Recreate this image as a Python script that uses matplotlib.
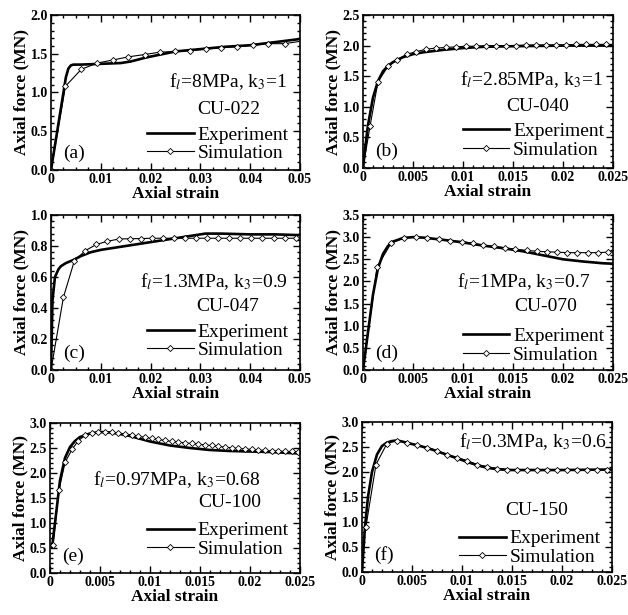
import matplotlib
matplotlib.use("Agg")
import matplotlib.pyplot as plt
from matplotlib.ticker import AutoMinorLocator, FuncFormatter, MultipleLocator
from matplotlib.lines import Line2D

plt.rcParams.update({"font.family": "Liberation Serif", "mathtext.fontset": "stix",
                     "axes.linewidth": 1.2})

# ---- (a) CU-022 ----
a_exp_x = [0, 0.001, 0.002, 0.003, 0.0035, 0.004, 0.0045, 0.006, 0.01, 0.014, 0.016, 0.019,
           0.022, 0.025, 0.03, 0.035, 0.04, 0.045, 0.05]
a_exp_y = [0, 0.40, 0.80, 1.20, 1.31, 1.35, 1.36, 1.36, 1.37, 1.38, 1.40, 1.45,
           1.49, 1.53, 1.56, 1.59, 1.61, 1.65, 1.69]
a_sim_x = [0, 0.0029, 0.0061, 0.0093, 0.0125, 0.0155, 0.0188, 0.0218, 0.025, 0.028, 0.0312,
           0.0342, 0.0373, 0.0406, 0.0436, 0.0469, 0.05]
a_sim_y = [0, 1.08, 1.30, 1.38, 1.42, 1.46, 1.49, 1.52, 1.53, 1.54, 1.56,
           1.58, 1.59, 1.61, 1.63, 1.63, 1.66]

# ---- (b) CU-040 ----
b_exp_x = [0, 0.0002, 0.0005, 0.001, 0.0015, 0.002, 0.0025, 0.003, 0.004, 0.005, 0.006,
           0.008, 0.01, 0.012, 0.015, 0.02, 0.025]
b_exp_y = [0, 0.30, 0.70, 1.15, 1.42, 1.58, 1.67, 1.73, 1.81, 1.86, 1.89,
           1.93, 1.96, 1.98, 1.99, 2.00, 2.00]
b_sim_x = [0, 0.0007, 0.0015, 0.0025, 0.0034, 0.0044, 0.0053, 0.0063, 0.0073, 0.0083, 0.0093,
           0.0103, 0.0113, 0.0123, 0.0133, 0.0143, 0.0153, 0.0163, 0.0173, 0.0183, 0.0193,
           0.0203, 0.0213, 0.0223, 0.0233, 0.0243, 0.025]
b_sim_y = [0, 0.68, 1.41, 1.66, 1.77, 1.86, 1.90, 1.94, 1.96, 1.97, 1.98,
           1.99, 1.99, 2.00, 2.00, 2.00, 2.00, 2.01, 2.01, 2.01, 2.01,
           2.01, 2.02, 2.02, 2.02, 2.02, 2.02]

# ---- (c) CU-047 ----
c_exp_x = [0, 0.0003, 0.0008, 0.0015, 0.002, 0.003, 0.0045, 0.006, 0.008, 0.01, 0.013, 0.016,
           0.02, 0.024, 0.028, 0.031, 0.034, 0.04, 0.045, 0.05]
c_exp_y = [0, 0.45, 0.60, 0.65, 0.67, 0.69, 0.71, 0.735, 0.76, 0.775, 0.79, 0.805,
           0.825, 0.845, 0.865, 0.88, 0.88, 0.875, 0.875, 0.87]
c_sim_x = [0, 0.0025, 0.0047, 0.0069, 0.0091, 0.0113, 0.0136, 0.0158, 0.018, 0.0202, 0.0225,
           0.0247, 0.0269, 0.0291, 0.0313, 0.0336, 0.0358, 0.038, 0.0402, 0.0424, 0.0447,
           0.0469, 0.0491]
c_sim_y = [0, 0.47, 0.705, 0.77, 0.81, 0.83, 0.845, 0.847, 0.848, 0.85, 0.85,
           0.85, 0.85, 0.85, 0.85, 0.85, 0.85, 0.85, 0.85, 0.85, 0.85,
           0.85, 0.85]

# ---- (d) CU-070 ----
d_exp_x = [0, 0.0005, 0.001, 0.0015, 0.002, 0.0025, 0.003, 0.004, 0.005, 0.006, 0.008, 0.01,
           0.012, 0.014, 0.016, 0.018, 0.02, 0.022, 0.024, 0.025]
d_exp_y = [0, 0.85, 1.70, 2.30, 2.62, 2.80, 2.90, 2.98, 3.00, 2.99, 2.94, 2.88,
           2.81, 2.75, 2.68, 2.59, 2.50, 2.45, 2.41, 2.40]
d_sim_x = [0, 0.0014, 0.0028, 0.0041, 0.0053, 0.0064, 0.0076, 0.0087, 0.0099, 0.011, 0.012,
           0.0131, 0.0142, 0.0152, 0.0164, 0.0174, 0.0184, 0.0194, 0.0204, 0.0214, 0.0225,
           0.0235, 0.0245, 0.025]
d_sim_y = [0, 2.32, 2.86, 2.99, 3.00, 2.98, 2.96, 2.92, 2.90, 2.86, 2.82,
           2.79, 2.76, 2.73, 2.70, 2.68, 2.67, 2.66, 2.65, 2.65, 2.65,
           2.65, 2.66, 2.67]

# ---- (e) CU-100 ----
e_exp_x = [0.0002, 0.0005, 0.001, 0.0015, 0.002, 0.0025, 0.003, 0.004, 0.005, 0.006, 0.007,
           0.008, 0.01, 0.012, 0.014, 0.016, 0.018, 0.02, 0.022, 0.025]
e_exp_y = [0.50, 1.00, 1.85, 2.30, 2.52, 2.64, 2.72, 2.79, 2.82, 2.81, 2.78,
           2.74, 2.63, 2.55, 2.50, 2.46, 2.44, 2.43, 2.42, 2.39]
e_sim_x = [0.0003, 0.0009, 0.0015, 0.0022, 0.0028, 0.0035, 0.0042, 0.0048, 0.0055, 0.0062,
           0.0068, 0.0075, 0.0082, 0.0088, 0.0095, 0.0102, 0.0108, 0.0115, 0.0122, 0.0128,
           0.0135, 0.0142, 0.0148, 0.0155, 0.0162, 0.0168, 0.0175, 0.0182, 0.0188, 0.0195,
           0.0202, 0.0208, 0.0215, 0.0222, 0.0228, 0.0235, 0.0242, 0.0248]
e_sim_y = [0.56, 1.66, 2.21, 2.47, 2.64, 2.75, 2.80, 2.82, 2.82, 2.81,
           2.80, 2.78, 2.76, 2.74, 2.71, 2.69, 2.67, 2.65, 2.63, 2.62,
           2.60, 2.59, 2.58, 2.56, 2.55, 2.53, 2.52, 2.50, 2.49, 2.48,
           2.47, 2.46, 2.45, 2.44, 2.44, 2.43, 2.43, 2.42]

# ---- (f) CU-150 ----
f_exp_x = [0, 0.0003, 0.0006, 0.001, 0.0015, 0.002, 0.0025, 0.003, 0.0035, 0.004, 0.005,
           0.006, 0.007, 0.008, 0.009, 0.01, 0.011, 0.012, 0.013, 0.014, 0.015, 0.017, 0.02, 0.025]
f_exp_y = [0, 0.90, 1.50, 2.00, 2.35, 2.52, 2.59, 2.62, 2.63, 2.61, 2.56,
           2.51, 2.45, 2.38, 2.31, 2.24, 2.17, 2.11, 2.07, 2.05, 2.04, 2.04, 2.04, 2.05]
f_sim_x = [0.0004, 0.0014, 0.0025, 0.0035, 0.0045, 0.0055, 0.0065, 0.0075, 0.0085, 0.0095,
           0.0105, 0.0115, 0.0125, 0.0135, 0.0145, 0.0155, 0.0165, 0.0175, 0.0185, 0.0195,
           0.0205, 0.0215, 0.0225, 0.0235, 0.0245]
f_sim_y = [0.91, 2.15, 2.57, 2.63, 2.59, 2.54, 2.49, 2.43, 2.35, 2.29,
           2.23, 2.15, 2.11, 2.07, 2.05, 2.04, 2.04, 2.04, 2.04, 2.04,
           2.04, 2.04, 2.04, 2.04, 2.04]

panels = [
    # letter, rect, exp, sim, xmax, ymax, ystep, condition, specimen, cond_xy, spec_xy, leg_xy, last point marked
    ("a", [0.0812, 0.7236, 0.3965, 0.2520], (a_exp_x, a_exp_y), (a_sim_x, a_sim_y), 0.05, 2.0, 0.5,
     r"f$_{\mathit{l}}$=8MPa, k$_3$=1", "CU-022", (0.95, 0.57), (0.715, 0.39), (0.955, 0.05), False),
    ("b", [0.5780, 0.7268, 0.3981, 0.2488], (b_exp_x, b_exp_y), (b_sim_x, b_sim_y), 0.025, 2.5, 0.5,
     r"f$_{\mathit{l}}$=2.85MPa, k$_3$=1", "CU-040", (0.96, 0.575), (0.70, 0.40), (0.965, 0.06), False),
    ("c", [0.0812, 0.3984, 0.3965, 0.2520], (c_exp_x, c_exp_y), (c_sim_x, c_sim_y), 0.05, 1.0, 0.2,
     r"f$_{\mathit{l}}$=1.3MPa, k$_3$=0.9", "CU-047", (0.95, 0.57), (0.71, 0.41), (0.955, 0.07), True),
    ("d", [0.5780, 0.3984, 0.3981, 0.2520], (d_exp_x, d_exp_y), (d_sim_x, d_sim_y), 0.025, 3.5, 0.5,
     r"f$_{\mathit{l}}$=1MPa, k$_3$=0.7", "CU-070", (0.91, 0.57), (0.73, 0.41), (0.965, 0.04), False),
    ("e", [0.0796, 0.0683, 0.3981, 0.2439], (e_exp_x, e_exp_y), (e_sim_x, e_sim_y), 0.025, 3.0, 0.5,
     r"f$_{\mathit{l}}$=0.97MPa, k$_3$=0.68", "CU-100", (0.84, 0.62), (0.72, 0.47), (0.955, 0.10), True),
    ("f", [0.5764, 0.0699, 0.3981, 0.2439], (f_exp_x, f_exp_y), (f_sim_x, f_sim_y), 0.025, 3.0, 0.5,
     r"f$_{\mathit{l}}$=0.3MPa, k$_3$=0.6", "CU-150", (0.98, 0.87), (0.70, 0.41), (0.955, 0.04), True),
]

EXP_LW, SIM_LW, MS = 1.9, 0.8, 3.1


def xfmt(v, _):
    return "0" if abs(v) < 1e-12 else f"{v:g}"


fig = plt.figure(figsize=(6.28, 6.15), dpi=100)
for letter, rect, exp, sim, xmax, ymax, ystep, cond, spec, cxy, sxy, lxy, mark_last in panels:
    ax = fig.add_axes(rect)
    ax.plot(exp[0], exp[1], color="black", lw=EXP_LW, solid_capstyle="butt")
    n = len(sim[0])
    every = list(range(n)) if mark_last else list(range(n - 1))
    ax.plot(sim[0], sim[1], color="black", lw=SIM_LW, marker="D", ms=MS, mfc="white",
            mec="black", mew=0.6, markevery=every)
    ax.set_xlim(0, xmax)
    ax.set_ylim(0, ymax)
    ax.xaxis.set_major_locator(MultipleLocator(0.01 if xmax > 0.03 else 0.005))
    ax.xaxis.set_minor_locator(AutoMinorLocator(4 if xmax > 0.03 else 5))
    ax.yaxis.set_major_locator(MultipleLocator(ystep))
    ax.yaxis.set_minor_locator(AutoMinorLocator(5))
    ax.xaxis.set_major_formatter(FuncFormatter(xfmt))
    ax.yaxis.set_major_formatter(FuncFormatter(lambda v, _: f"{v:.1f}"))
    ax.tick_params(which="both", direction="in", top=True, right=True, width=1.0)
    ax.tick_params(which="major", length=5, labelsize=10, pad=2)
    ax.tick_params(which="minor", length=2.5)
    for lab in ax.get_xticklabels() + ax.get_yticklabels():
        lab.set_fontweight("bold")
    ax.set_xlabel("Axial strain", fontsize=12.5, fontweight="bold", labelpad=0)
    ax.set_ylabel("Axial force (MN)", fontsize=12.5, fontweight="bold", labelpad=1)
    ax.text(cxy[0], cxy[1], cond, transform=ax.transAxes, ha="right", va="center", fontsize=14)
    ax.text(sxy[0], sxy[1], spec, transform=ax.transAxes, ha="center", va="center", fontsize=14)
    ax.text(0.05, 0.11, f"({letter})", transform=ax.transAxes, ha="left", va="center", fontsize=14)
    handles = [Line2D([], [], color="black", lw=EXP_LW),
               Line2D([], [], color="black", lw=SIM_LW, marker="D", ms=MS, mfc="white", mew=0.6)]
    ax.legend(handles, ["Experiment", "Simulation"], loc="lower right", bbox_to_anchor=lxy,
              frameon=False, fontsize=14, handlelength=2.4, handletextpad=0.2,
              labelspacing=0.05, borderpad=0, borderaxespad=0, numpoints=1)

fig.savefig("out.png", dpi=100)
